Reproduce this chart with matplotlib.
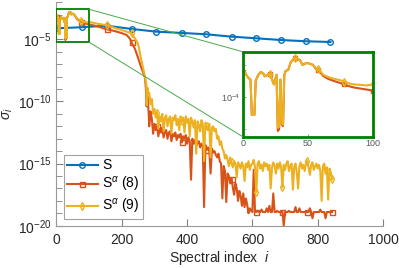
import numpy as np
import matplotlib
matplotlib.use('Agg')
import matplotlib.pyplot as plt
from matplotlib.patches import Rectangle, ConnectionPatch

plt.rcParams['font.family'] = ['Liberation Sans', 'DejaVu Sans']
plt.rcParams['mathtext.fontset'] = 'custom'
plt.rcParams['mathtext.rm'] = 'Liberation Sans'
plt.rcParams['mathtext.it'] = 'Liberation Sans:italic'

# ---- data (log10 of sigma_i) ----
# S: only marker points
s_idx = [0, 77, 154, 230, 306, 383, 459, 536, 610, 687, 763, 839]
s_log = [-4.11, -4.02, -3.90, -4.16, -4.38, -4.48, -4.59, -4.78, -4.91, -5.05, -5.15, -5.21]

# first 100 indices (as seen in the zoom window)
head_idx = [0, 2, 4, 5, 6, 7, 8, 9, 10, 12,
            14, 16, 17, 19, 21, 22, 24, 25, 26, 27,
            28, 29, 30, 31, 32, 33, 35, 37, 39, 40,
            42, 44, 46, 48, 50, 52, 54, 56, 58, 60,
            62, 64, 66, 68, 70, 73, 76, 78, 80, 83,
            86, 89, 92, 95, 97]
a9_head = [-3.22, -3.25, -3.38, -3.42, -3.45, -4.55, -4.50, -4.55, -3.48, -3.30,
           -3.21, -3.27, -3.35, -3.30, -3.27, -3.38, -3.60, -3.45, -3.30, -4.95,
           -4.92, -3.45, -4.80, -4.86, -3.30, -3.18, -3.15, -2.90, -2.82, -2.78,
           -2.80, -2.84, -2.99, -2.95, -2.93, -2.96, -2.99, -3.08, -3.13, -3.20,
           -3.30, -3.34, -3.37, -3.40, -3.42, -3.45, -3.48, -3.51, -3.54, -3.58,
           -3.60, -3.61, -3.62, -3.63, -3.62]
a8_head = [-3.22, -3.25, -3.38, -3.42, -3.45, -4.55, -4.50, -4.55, -3.48, -3.30,
           -3.21, -3.27, -3.35, -3.30, -3.27, -3.38, -3.60, -3.45, -3.30, -5.05,
           -5.00, -3.45, -4.85, -4.90, -3.30, -3.18, -3.15, -2.90, -2.82, -2.78,
           -2.80, -2.84, -2.99, -2.95, -2.93, -2.96, -2.99, -3.10, -3.16, -3.24,
           -3.34, -3.39, -3.43, -3.46, -3.49, -3.53, -3.57, -3.59, -3.63, -3.67,
           -3.70, -3.72, -3.74, -3.76, -3.77]

# smooth part and the steep drop
a8_mid_idx = [100, 110, 120, 130, 140, 154, 170, 185, 200, 215,
              225, 230, 240, 250, 260, 266, 271, 274, 276, 279, 282]
a8_mid = [-3.80, -3.85, -3.92, -3.98, -4.08, -4.19, -4.28, -4.38, -4.50, -4.65,
          -4.95, -5.25, -5.75, -6.50, -7.30, -7.70, -8.10, -9.00, -10.4, -9.6, -10.8]
a9_mid_idx = [100, 115, 130, 154, 175, 200, 215, 230, 241, 247,
              252, 256, 262, 266, 271, 275, 277, 279, 281]
a9_mid = [-3.60, -3.68, -3.76, -3.86, -4.05, -4.25, -4.38, -4.51, -4.95, -5.20,
          -5.60, -6.20, -6.90, -7.40, -8.00, -8.60, -10.3, -8.9, -9.4]

# noisy tail, every 4th index from 284 to 844
tail_idx = np.arange(284, 848, 4)
a9_tail = [-9.3, -10.2, -9.8, -11.0, -10.6, -11.3, -10.9, -12.2, -11.2, -11.6,
           -11.0, -12.4, -11.3, -11.1, -12.0, -11.4, -11.2, -12.6, -11.3, -11.5,
           -11.1, -11.9, -11.4, -12.3, -11.2, -11.6, -11.3, -12.5, -11.2, -11.7,
           -11.4, -12.8, -11.3, -11.6, -12.1, -11.5, -14.2, -11.6, -11.9, -12.4,
           -11.5, -11.8, -14.8, -11.7, -12.0, -12.3, -11.8, -14.5, -12.1, -12.0,
           -12.4, -12.2, -13.0, -12.8, -13.5, -13.2, -13.8, -14.0, -14.6, -14.3,
           -14.7, -15.2, -14.5, -14.9, -15.3, -14.8, -15.0, -16.1, -14.9, -15.1,
           -15.4, -14.9, -15.2, -16.4, -15.0, -15.3, -14.8, -15.5, -15.1, -15.0,
           -14.7, -15.3, -17.3, -15.0, -14.8, -15.4, -15.1, -15.6, -14.9, -15.2,
           -15.0, -15.5, -15.1, -17.0, -15.3, -14.9, -15.2, -15.8, -15.0, -15.4,
           -14.9, -15.3, -16.9, -15.1, -15.5, -15.0, -14.8, -15.6, -15.2, -15.0,
           -17.1, -15.3, -15.0, -15.7, -17.0, -15.2, -14.9, -15.4, -15.1, -15.6,
           -15.0, -14.8, -15.3, -15.9, -15.1, -14.9, -15.5, -15.2, -15.0, -15.4,
           -15.1, -15.6, -18.0, -15.2, -15.0, -15.8, -15.3, -17.9, -15.4, -15.7,
           -16.26]
a8_tail = [-12.0, -10.8, -11.4, -12.6, -11.8, -12.3, -12.0, -12.8, -12.2, -12.5,
           -12.1, -12.9, -12.4, -12.3, -13.0, -12.5, -12.4, -13.2, -12.6, -12.8,
           -12.5, -13.1, -12.7, -12.9, -12.6, -13.3, -12.8, -13.0, -12.7, -13.4,
           -12.9, -13.2, -16.3, -13.0, -13.4, -13.1, -13.6, -13.3, -13.2, -13.7,
           -13.4, -13.6, -18.5, -13.5, -13.9, -13.7, -14.0, -15.8, -13.8, -14.1,
           -14.0, -14.3, -14.5, -14.2, -14.8, -15.0, -17.8, -15.2, -15.6, -18.1,
           -15.8, -16.0, -16.6, -16.2, -16.9, -17.5, -16.6, -17.0, -18.0, -17.2,
           -17.6, -18.4, -17.4, -18.5, -17.8, -18.3, -19.0, -18.6, -18.8, -18.9,
           -15.5, -18.9, -18.9, -18.8, -18.9, -18.9, -18.7, -18.9, -18.9, -18.9,
           -18.6, -18.9, -18.4, -18.9, -18.9, -17.4, -18.9, -18.9, -18.8, -18.9,
           -18.9, -18.9, -18.9, -20.0, -18.9, -18.9, -18.9, -18.8, -18.9, -18.9,
           -18.9, -18.9, -18.5, -18.9, -18.9, -18.6, -18.9, -18.9, -18.9, -18.9,
           -18.9, -18.9, -18.9, -18.6, -18.9, -19.4, -18.9, -18.9, -18.9, -18.9,
           -18.9, -18.7, -18.9, -18.9, -18.9, -19.4, -18.9, -18.9, -18.9, -18.9,
           -18.9]

marker_pos = [0, 77, 154, 230, 307, 384, 461, 537, 614, 691, 768, 844]
inset_marker_pos = [0, 21, 40, 58, 78, 100]

labels = ['S', r'S$^{\alpha}$ (8)', r'S$^{\alpha}$ (9)']
colors = ['#0072BD', '#D95319', '#EDB120']
zoom_x = (0, 100)
zoom_y = (10 ** -5.23, 10 ** -2.58)

# ---- assemble ----
a8_idx = np.concatenate([head_idx, a8_mid_idx, tail_idx])
a8 = 10.0 ** np.concatenate([a8_head, a8_mid, a8_tail])
a9_idx = np.concatenate([head_idx, a9_mid_idx, tail_idx])
a9 = 10.0 ** np.concatenate([a9_head, a9_mid, a9_tail])
s_val = 10.0 ** np.array(s_log)


def nearest(idx, pos):
    idx = np.asarray(idx)
    return sorted(set(int(np.argmin(np.abs(idx - p))) for p in pos))


fig = plt.figure(figsize=(3.99, 2.68), dpi=100)
ax = fig.add_axes([0.1416, 0.1578, 0.8183, 0.8343])

lw, ms = 1.5, 3.6
ax.plot(s_idx, s_val, color=colors[0], lw=lw, marker='o', ms=ms + 0.4, mfc='none', mew=1.0,
        label=labels[0], zorder=3)
ax.plot(a8_idx, a8, color=colors[1], lw=lw, marker='s', ms=ms, mfc='none', mew=1.0,
        markevery=nearest(a8_idx, marker_pos), label=labels[1], zorder=4)
ax.plot(a9_idx, a9, color=colors[2], lw=lw, marker='d', ms=ms, mfc='none', mew=1.0,
        markevery=nearest(a9_idx, marker_pos), label=labels[2], zorder=5)

ax.set_yscale('log')
ax.set_xlim(0, 1000)
ax.set_ylim(1e-20, 1e-2)
ax.set_xticks([0, 200, 400, 600, 800, 1000])
ax.set_yticks([1e-20, 1e-15, 1e-10, 1e-5])
ax.set_yticks([10.0 ** -k for k in range(2, 20) if k % 5 != 0], minor=True)
ax.yaxis.set_minor_formatter(plt.NullFormatter())
for s in ['top', 'right']:
    ax.spines[s].set_visible(False)
for s in ['left', 'bottom']:
    ax.spines[s].set_color('0.6')
    ax.spines[s].set_linewidth(0.8)
ax.tick_params(which='both', direction='in', color='0.5', labelsize=10, labelcolor='0.15')
ax.tick_params(which='major', length=5)
ax.tick_params(which='minor', length=4)
ax.tick_params(axis='x', pad=5)
ax.set_xlabel('Spectral index  $i$', fontsize=10, color='0.15', labelpad=2)
ax.set_ylabel(r'$\sigma_i$', fontsize=10, color='0.15', labelpad=2)

leg = ax.legend(loc='lower left', bbox_to_anchor=(0.022, 0.028), fontsize=10,
                frameon=True, fancybox=False, handlelength=2.2, handletextpad=0.3,
                borderpad=0.25, labelspacing=0.2, borderaxespad=0)
leg.get_frame().set_edgecolor('0.55')
leg.get_frame().set_linewidth(0.8)

# zoom box on the main axes
ax.add_patch(Rectangle((zoom_x[0], zoom_y[0]), zoom_x[1] - zoom_x[0], zoom_y[1] - zoom_y[0],
                       fill=False, edgecolor='#008000', lw=1.3, zorder=6))

# inset
ins = fig.add_axes([0.6083, 0.4899, 0.3258, 0.3172])
ins.plot(a8_idx, a8, color=colors[1], lw=lw, marker='s', ms=ms - 0.6, mfc='none', mew=1.0,
         markevery=nearest(a8_idx, inset_marker_pos))
ins.plot(a9_idx, a9, color=colors[2], lw=lw, marker='d', ms=ms, mfc='none', mew=1.0,
         markevery=nearest(a9_idx, inset_marker_pos))
ins.set_yscale('log')
ins.set_xlim(*zoom_x)
ins.set_ylim(*zoom_y)
ins.set_xticks([0, 50, 100])
ins.set_yticks([1e-4])
ins.set_yticks([1e-5, 1e-3], minor=True)
ins.yaxis.set_minor_formatter(plt.NullFormatter())
ins.tick_params(which='both', direction='in', length=2, color='0.6', labelsize=6.5,
                labelcolor='0.35', pad=2)
for s in ins.spines.values():
    s.set_color('#008000')
    s.set_linewidth(2.0)

for ya, yb in [(zoom_y[1], 1), (zoom_y[0], 0)]:
    con = ConnectionPatch(xyA=(zoom_x[1], ya), coordsA=ax.transData,
                          xyB=(0, yb), coordsB=ins.transAxes,
                          color='#4aa84a', lw=0.7, zorder=2)
    fig.add_artist(con)

fig.savefig('out.png', dpi=100)
